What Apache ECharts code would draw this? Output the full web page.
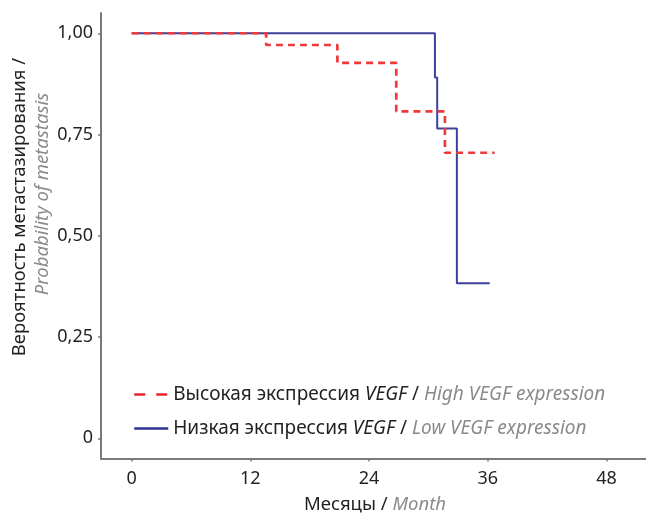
<!DOCTYPE html>
<html>
<head>
<meta charset="utf-8">
<script src="https://cdn.jsdelivr.net/npm/echarts@6/dist/echarts.min.js"></script>
<style>html,body{margin:0;padding:0;background:#fff}#c{width:646px;height:515px}</style>
</head>
<body>
<div id="c"></div>
<script>
// Data (months, probability)
const highTimes = [0, 13.6, 20.8, 26.75, 31.67, 36.7];
const highProb  = [1.0, 0.971, 0.927, 0.807, 0.705, 0.705];
const lowTimes  = [0, 30.66, 30.89, 32.88, 36.2];
const lowProb   = [1.0, 0.891, 0.765, 0.383, 0.383];
const xTicks = [0, 12, 24, 36, 48];
const yTicks = [0, 0.25, 0.5, 0.75, 1.0];
const yTickLabels = ['0', '0,25', '0,50', '0,75', '1,00'];

const FONT = 'Noto Sans';
const chart = echarts.init(document.getElementById('c'), null, {renderer: 'canvas'});
const pairs = (xs, ys) => xs.map((x, i) => [x, ys[i]]);

chart.setOption({
  animation: false,
  textStyle: {fontFamily: FONT},
  grid: {left: 101, right: 0, top: 13, bottom: 56.4, containLabel: false},
  xAxis: {
    type: 'value', min: -3.1, max: 52.0,
    splitLine: {show: false},
    axisLine: {show: true, onZero: false, lineStyle: {color: '#7a7a7a', width: 2}},
    axisTick: {show: true, customValues: xTicks, length: 3, lineStyle: {color: '#7a7a7a', width: 1.5}},
    axisLabel: {customValues: xTicks, color: '#231f20', fontSize: 18, margin: 11, fontFamily: FONT}
  },
  yAxis: {
    type: 'value', min: -0.05, max: 1.05,
    splitLine: {show: false},
    axisLine: {show: true, onZero: false, lineStyle: {color: '#7a7a7a', width: 2}},
    axisTick: {show: true, customValues: yTicks, length: 3, lineStyle: {color: '#7a7a7a', width: 1.5}},
    axisLabel: {customValues: yTicks, color: '#231f20', fontSize: 18, margin: 8, fontFamily: FONT,
      formatter: v => { const i = yTicks.findIndex(t => Math.abs(t - v) < 1e-6); return i >= 0 ? yTickLabels[i] : ''; }}
  },
  legend: {
    orient: 'vertical', left: 128, top: 380, itemWidth: 34, itemHeight: 14, itemGap: 15,
    data: [
      {name: 'high', itemStyle: {opacity: 0}, lineStyle: {type: [11, 11], width: 2.5, color: '#e8242b'}},
      {name: 'low', itemStyle: {opacity: 0}, lineStyle: {width: 2.5, color: '#2e3192'}}
    ],
    textStyle: {
      fontSize: 19, fontFamily: FONT, color: '#231f20',
      rich: {
        a: {fontSize: 19, fontFamily: FONT, color: '#231f20'},
        b: {fontSize: 19, fontFamily: FONT, color: '#231f20', fontStyle: 'italic'},
        c: {fontSize: 19, fontFamily: FONT, color: '#8a8a8a', fontStyle: 'italic'}
      }
    },
    formatter: n => n === 'high'
      ? '{a|Высокая экспрессия }{b|VEGF}{a| / }{c|High VEGF expression}'
      : '{a|Низкая экспрессия }{b|VEGF}{a| / }{c|Low VEGF expression}'
  },
  series: [
    {name: 'low', type: 'line', step: 'end', symbol: 'none', data: pairs(lowTimes, lowProb),
     lineStyle: {color: '#3d4199', width: 2}, itemStyle: {color: '#3d4199'}, z: 2},
    {name: 'high', type: 'line', step: 'end', symbol: 'none', data: pairs(highTimes, highProb),
     lineStyle: {color: '#ee3a3a', width: 2.7, type: [7, 5]}, itemStyle: {color: '#ee3a3a'}, z: 3}
  ],
  graphic: [
    {type: 'text', x: 20, y: 207, rotation: Math.PI / 2,
     style: {text: 'Вероятность метастазирования /', font: '18.5px "Noto Sans"', fill: '#231f20', align: 'center', verticalAlign: 'middle'}},
    {type: 'text', x: 43, y: 194, rotation: Math.PI / 2,
     style: {text: 'Probability of metastasis', font: 'italic 18.5px "Noto Sans"', fill: '#8a8a8a', align: 'center', verticalAlign: 'middle'}},
    {type: 'text', x: 375, y: 505,
     style: {rich: {a: {font: '18.5px "Noto Sans"', fill: '#231f20'}, c: {font: 'italic 18.5px "Noto Sans"', fill: '#8a8a8a'}},
             text: '{a|Месяцы / }{c|Month}', align: 'center', verticalAlign: 'middle'}}
  ]
});
</script>
</body>
</html>
